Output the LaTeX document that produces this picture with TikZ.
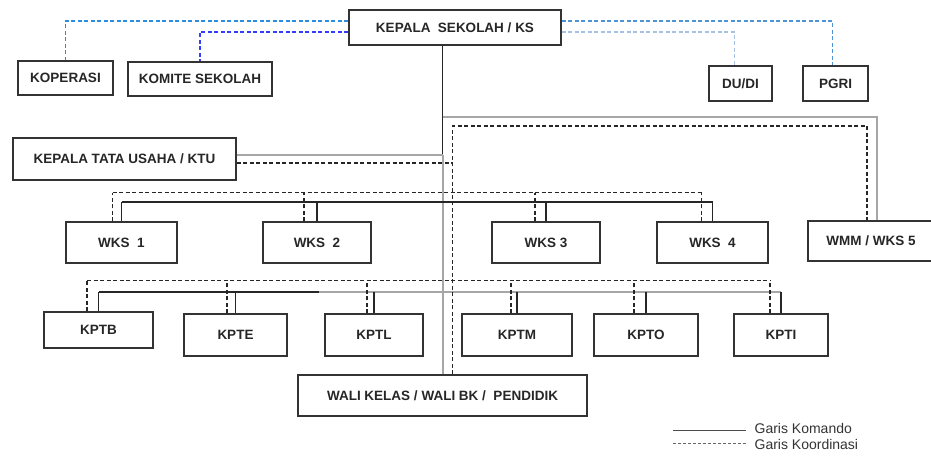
\documentclass[tikz,border=0pt]{standalone}
\usepackage{fontspec}
\setmainfont{Liberation Sans}
\usetikzlibrary{calc,positioning}
\tikzset{
  every picture/.append style={line width=1.2pt},
  every node/.append style={font=\bfseries\fontsize{13.5}{16}\selectfont},
}
\tikzset{
  unit/.style={draw=black!80, line width=1.3pt, inner sep=0pt, align=center, text=black!85},
  komando/.style={black!85, line width=1.3pt},
  koord/.style={black!85, line width=1.3pt, dash pattern=on 4pt off 2.5pt},
  graykom/.style={black!35, line width=2pt},
  legend/.style={font=\fontsize{14}{16}\selectfont, text=black!80, inner sep=0pt}
}

\begin{document}
\begin{tikzpicture}[x=1pt, y=-1pt]
\definecolor{koplink}{RGB}{43,140,224}
\definecolor{komlink}{RGB}{50,62,250}
\definecolor{pgrilink}{RGB}{78,148,212}
\definecolor{dudilink}{RGB}{168,192,228}
\useasboundingbox (0,0) rectangle (931,455);

\node[unit, minimum width=212pt, minimum height=35pt] (ks) at (455,27.5) {KEPALA\ \ SEKOLAH / KS};
\node[unit, minimum width=95pt, minimum height=34pt] (kop) at (65.5,78) {KOPERASI};
\node[unit, minimum width=144pt, minimum height=34pt] (kom) at (200,79) {KOMITE SEKOLAH};
\node[unit, minimum width=63pt, minimum height=35pt] (dudi) at (740.5,83.5) {DU/DI};
\node[unit, minimum width=65pt, minimum height=35pt] (pgri) at (835.5,83.5) {PGRI};
\node[unit, minimum width=223pt, minimum height=42pt] (ktu) at (124.5,159) {KEPALA TATA USAHA / KTU};

\node[unit, minimum width=111pt, minimum height=41pt] (wks1) at (121.5,242.5) {WKS\ \ 1};
\node[unit, minimum width=108pt, minimum height=41pt] (wks2) at (317,242.5) {WKS\ \ 2};
\node[unit, minimum width=108pt, minimum height=41pt] (wks3) at (546,242.5) {WKS 3};
\node[unit, minimum width=111pt, minimum height=41pt] (wks4) at (712.5,242.5) {WKS\ \ 4};
\node[unit, minimum width=126pt, minimum height=40pt] (wmm) at (871,241) {WMM / WKS 5};

\node[unit, minimum width=109pt, minimum height=36pt] (kptb) at (98.5,330) {KPTB};
\node[unit, minimum width=103pt, minimum height=42pt] (kpte) at (235.5,335) {KPTE};
\node[unit, minimum width=98pt, minimum height=42pt] (kptl) at (374,335) {KPTL};
\node[unit, minimum width=110pt, minimum height=42pt] (kptm) at (517,335) {KPTM};
\node[unit, minimum width=104pt, minimum height=42pt] (kpto) at (646,335) {KPTO};
\node[unit, minimum width=94pt, minimum height=42pt] (kpti) at (781,335) {KPTI};
\node[unit, minimum width=289pt, minimum height=41pt] (wali) at (442.5,395.5) {WALI KELAS / WALI BK /\ \ PENDIDIK};

% Koordinasi luar
\draw[koord, koplink] (ks.west |- 0,21) -| (kop.north);
\draw[koord, komlink] (ks.west |- 0,32) -| (kom.north);
\draw[koord, pgrilink] (ks.east |- 0,21) -| ($(pgri.north)+(-3,0)$);
\draw[koord, dudilink] (ks.east |- 0,32) -| ($(dudi.north)+(-6,0)$);

% Komando
\coordinate (kt) at (wali.north |- 0,155);
\draw[komando] (ks.south -| wali.north) -- (kt);
\draw[graykom] (kt) -- (wali.north);
\draw[graykom] (ktu.east |- kt) -- (kt);
\draw[graykom] (wali.north |- 0,117) -| ($(wmm.north)+(6,0)$);

\draw[komando] (wks1.north |- 0,202) -- (wks4.north |- 0,202);
\foreach \n in {wks1,wks2,wks3,wks4}
  \draw[komando] (\n.north) -- (\n.north |- 0,202);

\coordinate (kb) at (319,292);
\draw[komando] (kptb.north |- kb) -- (kb);
\draw[graykom, line width=1.6pt] (kb) -- (kpti.north |- kb);
\foreach \n in {kptb,kpte,kptl,kptm,kpto,kpti}
  \draw[komando] (\n.north) -- (\n.north |- kb);

% Koordinasi
\coordinate (kc) at ($(wali.north)+(10,0)$);
\draw[koord] (kc) -- (kc |- 0,126) -| ($(wmm.north)+(-4,0)$);
\draw[koord] (ktu.east |- 0,163) -- (kc |- 0,163);

\draw[koord] ($(wks1.north)+(-9,-29)$) -- ($(wks4.north)+(-11,-29)$);
\foreach \n/\d in {wks1/9,wks2/13,wks3/11,wks4/11}
  \draw[koord] ($(\n.north)+(-\d,0)$) coordinate (up) -- (up |- 0,193);

\draw[koord] ($(kptb.north)+(-11.5,-31)$) -- ($(kpti.north)+(-11,-33)$);
\foreach \n/\d in {kptb/11.5,kpte/8.5,kptl/7,kptm/6,kpto/12,kpti/11}
  \draw[koord] ($(\n.north)+(-\d,0)$) coordinate (up) -- (up |- 0,281);

% Keterangan
\coordinate (lk1) at (673,430);
\coordinate (lk2) at (746,430);
\draw[black!70, line width=0.9pt] (lk1) -- (lk2);
\node[legend, anchor=west] (lkt) at (754,428) {Garis Komando};
\coordinate (lc1) at (673,443);
\coordinate (lc2) at (746,443);
\draw[black!60, line width=0.8pt, dash pattern=on 3pt off 2pt] (lc1) -- (lc2);
\node[legend, anchor=west] (lct) at (754,444) {Garis Koordinasi};
\end{tikzpicture}
\end{document}
